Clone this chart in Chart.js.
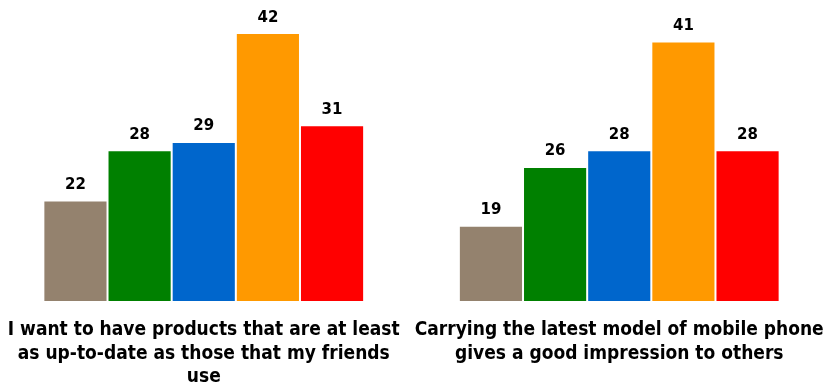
<!DOCTYPE html>
<html>
<head>
<meta charset="utf-8">
<script src="https://cdn.jsdelivr.net/npm/chart.js@4/dist/chart.umd.min.js"></script>
<style>
  html, body { margin: 0; padding: 0; background: #fff; overflow: hidden; }
  #wrap { width: 831px; height: 383px; margin-left: -4px; }
</style>
</head>
<body>
<div id="wrap"><canvas id="bar-chart"></canvas></div>
<script>
const categories = [
    ["I want to have products that are at least", "as up-to-date as those that my friends", "use"],
    ["Carrying the latest model of mobile phone", "gives a good impression to others"]
];
const seriesNames = ["Series 1", "Series 2", "Series 3", "Series 4", "Series 5"];
const seriesColors = ["#94826e", "#008000", "#0066cc", "#ff9900", "#ff0000"];
const seriesValues = [
    [22, 19],
    [28, 26],
    [29, 28],
    [42, 41],
    [31, 28]
];

const valueLabels = {
    id: 'valueLabels',
    afterDatasetsDraw(chart) {
        const ctx = chart.ctx;
        ctx.save();
        ctx.font = 'bold 15px "DejaVu Sans"';
        ctx.fillStyle = '#000';
        ctx.textAlign = 'center';
        ctx.textBaseline = 'bottom';
        chart.data.datasets.forEach((ds, i) => {
            chart.getDatasetMeta(i).data.forEach((bar, j) => {
                ctx.fillText(ds.data[j], bar.x, bar.y - 8);
            });
        });
        ctx.restore();
    }
};

new Chart(document.getElementById("bar-chart"), {
    type: 'bar',
    data: {
        labels: categories,
        datasets: seriesNames.map((name, i) => ({
            label: name,
            data: seriesValues[i],
            backgroundColor: seriesColors[i],
            borderColor: '#ffffff',
            borderWidth: 1,
            base: 10,
            barPercentage: 1,
            categoryPercentage: 0.772
        }))
    },
    options: {
        responsive: true,
        maintainAspectRatio: false,
        animation: false,
        layout: {padding: {top: 8, left: 0, right: 0, bottom: 0}},
        plugins: {
            legend: {display: false},
            tooltip: {enabled: false}
        },
        scales: {
            x: {
                grid: {display: false},
                border: {display: false},
                afterFit: scale => {
                    scale.height = 82;
                    scale.paddingLeft = 0;
                    scale.paddingRight = 0;
                },
                ticks: {
                    color: '#000',
                    padding: 9,
                    maxRotation: 0,
                    autoSkip: false,
                    font: {family: '"DejaVu Sans Condensed", "DejaVu Sans"', weight: 'bold', size: 19, lineHeight: 1.25}
                }
            },
            y: {
                display: false,
                min: 10,
                max: 45
            }
        }
    },
    plugins: [valueLabels]
});
</script>
</body>
</html>
